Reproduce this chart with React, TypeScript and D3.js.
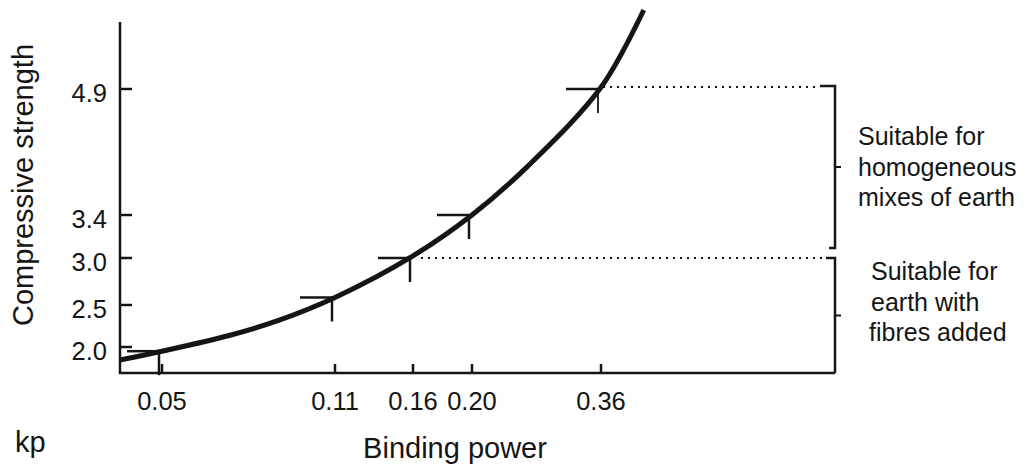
import { useEffect, useRef } from "react";
import * as d3 from "d3";

// tick values (axis is hand-drawn, so positions are not evenly spaced)
const kpTicks = [0.05, 0.11, 0.16, 0.2, 0.36];
const kpTickLabels = ["0.05", "0.11", "0.16", "0.20", "0.36"];
const strengthTicks = [2.0, 2.5, 3.0, 3.4, 4.9];
const strengthTickLabels = ["2.0", "2.5", "3.0", "3.4", "4.9"];

// measured points (marker = horizontal bar to the left + short bar downward)
const markerKp = [0.05, 0.11, 0.16, 0.2, 0.36];
const markerStrength = [1.95, 2.58, 3.0, 3.4, 4.9];

// fitted curve
const curveKp = [0.0354, 0.05, 0.0736, 0.0899, 0.11, 0.16, 0.2, 0.268, 0.36, 0.413];
const curveStrength = [1.845, 1.95, 2.14, 2.31, 2.58, 3.02, 3.4, 3.97, 4.92, 5.84];

// suitability bands
const bandTop = [4.9, 3.0];
const bandLabels = [
  ["Suitable for", "homogeneous", "mixes of earth"],
  ["Suitable for", "earth with", "fibres added"],
];

const FONT = "'Liberation Sans', Arial, Helvetica, sans-serif";
const INK = "#151515";

export default function App() {
  const ref = useRef<SVGSVGElement | null>(null);

  useEffect(() => {
    const svg = d3.select(ref.current);
    svg.selectAll("*").remove();

    const x0 = 120; // y axis position
    const yBase = 373; // x axis position
    const bracketX = 835;

    const x = d3.scaleLinear().domain(kpTicks).range([162, 335, 413, 472, 601]);
    const y = d3.scaleLinear().domain(strengthTicks).range([347, 305, 258, 215, 89]);

    // axes
    svg
      .append("path")
      .attr("d", `M${x0},22 V${yBase} H${bracketX}`)
      .attr("fill", "none")
      .attr("stroke", INK)
      .attr("stroke-width", 2.5);

    // y ticks (inward)
    svg
      .selectAll(".ytick")
      .data(strengthTicks)
      .enter()
      .append("line")
      .attr("x1", x0)
      .attr("x2", x0 + 12)
      .attr("y1", (d) => y(d))
      .attr("y2", (d) => y(d))
      .attr("stroke", INK)
      .attr("stroke-width", 2.5);

    svg
      .selectAll(".ylab")
      .data(strengthTicks)
      .enter()
      .append("text")
      .attr("x", 107)
      .attr("y", (d) => y(d))
      .attr("dy", "0.52em")
      .attr("text-anchor", "end")
      .attr("font-family", FONT)
      .attr("font-size", 25.5)
      .attr("fill", INK)
      .text((_, i) => strengthTickLabels[i]);

    // x ticks (inward)
    svg
      .selectAll(".xtick")
      .data(kpTicks)
      .enter()
      .append("line")
      .attr("x1", (d) => x(d))
      .attr("x2", (d) => x(d))
      .attr("y1", yBase)
      .attr("y2", yBase - 9)
      .attr("stroke", INK)
      .attr("stroke-width", 2.5);

    svg
      .selectAll(".xlab")
      .data(kpTicks)
      .enter()
      .append("text")
      .attr("x", (d) => x(d))
      .attr("y", 410)
      .attr("text-anchor", "middle")
      .attr("font-family", FONT)
      .attr("font-size", 25.5)
      .attr("fill", INK)
      .text((_, i) => kpTickLabels[i]);

    // axis titles
    svg
      .append("text")
      .attr("transform", "translate(33,185) rotate(-90)")
      .attr("text-anchor", "middle")
      .attr("font-family", FONT)
      .attr("font-size", 29)
      .attr("fill", INK)
      .text("Compressive strength");

    svg
      .append("text")
      .attr("x", 455)
      .attr("y", 458)
      .attr("text-anchor", "middle")
      .attr("font-family", FONT)
      .attr("font-size", 29)
      .attr("fill", INK)
      .text("Binding power");

    svg
      .append("text")
      .attr("x", 15)
      .attr("y", 452)
      .attr("font-family", FONT)
      .attr("font-size", 29)
      .attr("fill", INK)
      .text("kp");

    // dotted guide lines from markers to brackets
    svg
      .append("line")
      .attr("x1", x(0.36) + 2)
      .attr("x2", bracketX - 15)
      .attr("y1", y(4.9) - 2)
      .attr("y2", y(4.9) - 2)
      .attr("stroke", INK)
      .attr("stroke-width", 2)
      .attr("stroke-dasharray", "2,5");
    svg
      .append("line")
      .attr("x1", x(0.16) + 8)
      .attr("x2", bracketX - 9)
      .attr("y1", y(3.0))
      .attr("y2", y(3.0))
      .attr("stroke", INK)
      .attr("stroke-width", 2)
      .attr("stroke-dasharray", "2,5");

    // brackets
    const upTop = y(bandTop[0]) - 3;
    const upBot = y(bandTop[1]) - 10;
    const loTop = y(bandTop[1]);
    svg
      .append("path")
      .attr("d", `M${bracketX - 15},${upTop} H${bracketX} V${upBot} H${bracketX - 6}`)
      .attr("fill", "none")
      .attr("stroke", INK)
      .attr("stroke-width", 2.5);
    svg
      .append("path")
      .attr("d", `M${bracketX - 9},${loTop} H${bracketX} V${yBase}`)
      .attr("fill", "none")
      .attr("stroke", INK)
      .attr("stroke-width", 2.5);
    const mids = [(upTop + upBot) / 2, (loTop + yBase) / 2];
    mids.forEach((m) => {
      svg
        .append("line")
        .attr("x1", bracketX)
        .attr("x2", bracketX + 6)
        .attr("y1", m)
        .attr("y2", m)
        .attr("stroke", INK)
        .attr("stroke-width", 2);
    });

    // band labels
    const labelX = [858, 871];
    const labelY = [145, 280];
    bandLabels.forEach((lines, b) => {
      lines.forEach((t, i) => {
        svg
          .append("text")
          .attr("x", labelX[b] - (b === 1 && i === 2 ? 2 : 0))
          .attr("y", labelY[b] + i * 30.5)
          .attr("font-family", FONT)
          .attr("font-size", 25)
          .attr("fill", INK)
          .text(t);
      });
    });

    // markers
    const markers = svg
      .selectAll(".marker")
      .data(markerKp.map((k, i) => ({ k, s: markerStrength[i] })))
      .enter()
      .append("g");
    markers
      .append("line")
      .attr("x1", (d) => x(d.k) - 3 - 32)
      .attr("x2", (d) => x(d.k) - 3)
      .attr("y1", (d) => y(d.s))
      .attr("y2", (d) => y(d.s))
      .attr("stroke", INK)
      .attr("stroke-width", 2.5);
    markers
      .append("line")
      .attr("x1", (d) => x(d.k) - 3)
      .attr("x2", (d) => x(d.k) - 3)
      .attr("y1", (d) => y(d.s))
      .attr("y2", (d) => y(d.s) + 24)
      .attr("stroke", INK)
      .attr("stroke-width", (_, i) => (i === 4 ? 1.8 : 2.5));

    // curve
    const line = d3
      .line<number>()
      .x((d) => x(d))
      .y((_, i) => y(curveStrength[i]))
      .curve(d3.curveCatmullRom.alpha(0.5));
    svg
      .append("path")
      .attr("d", line(curveKp))
      .attr("fill", "none")
      .attr("stroke", INK)
      .attr("stroke-width", 5)
      .attr("stroke-linecap", "butt");
  }, []);

  return (
    <div style={{ position: "absolute", left: 0, top: 0 }}>
      <svg ref={ref} width={1027} height={470} style={{ display: "block", background: "#fff" }} />
    </div>
  );
}
